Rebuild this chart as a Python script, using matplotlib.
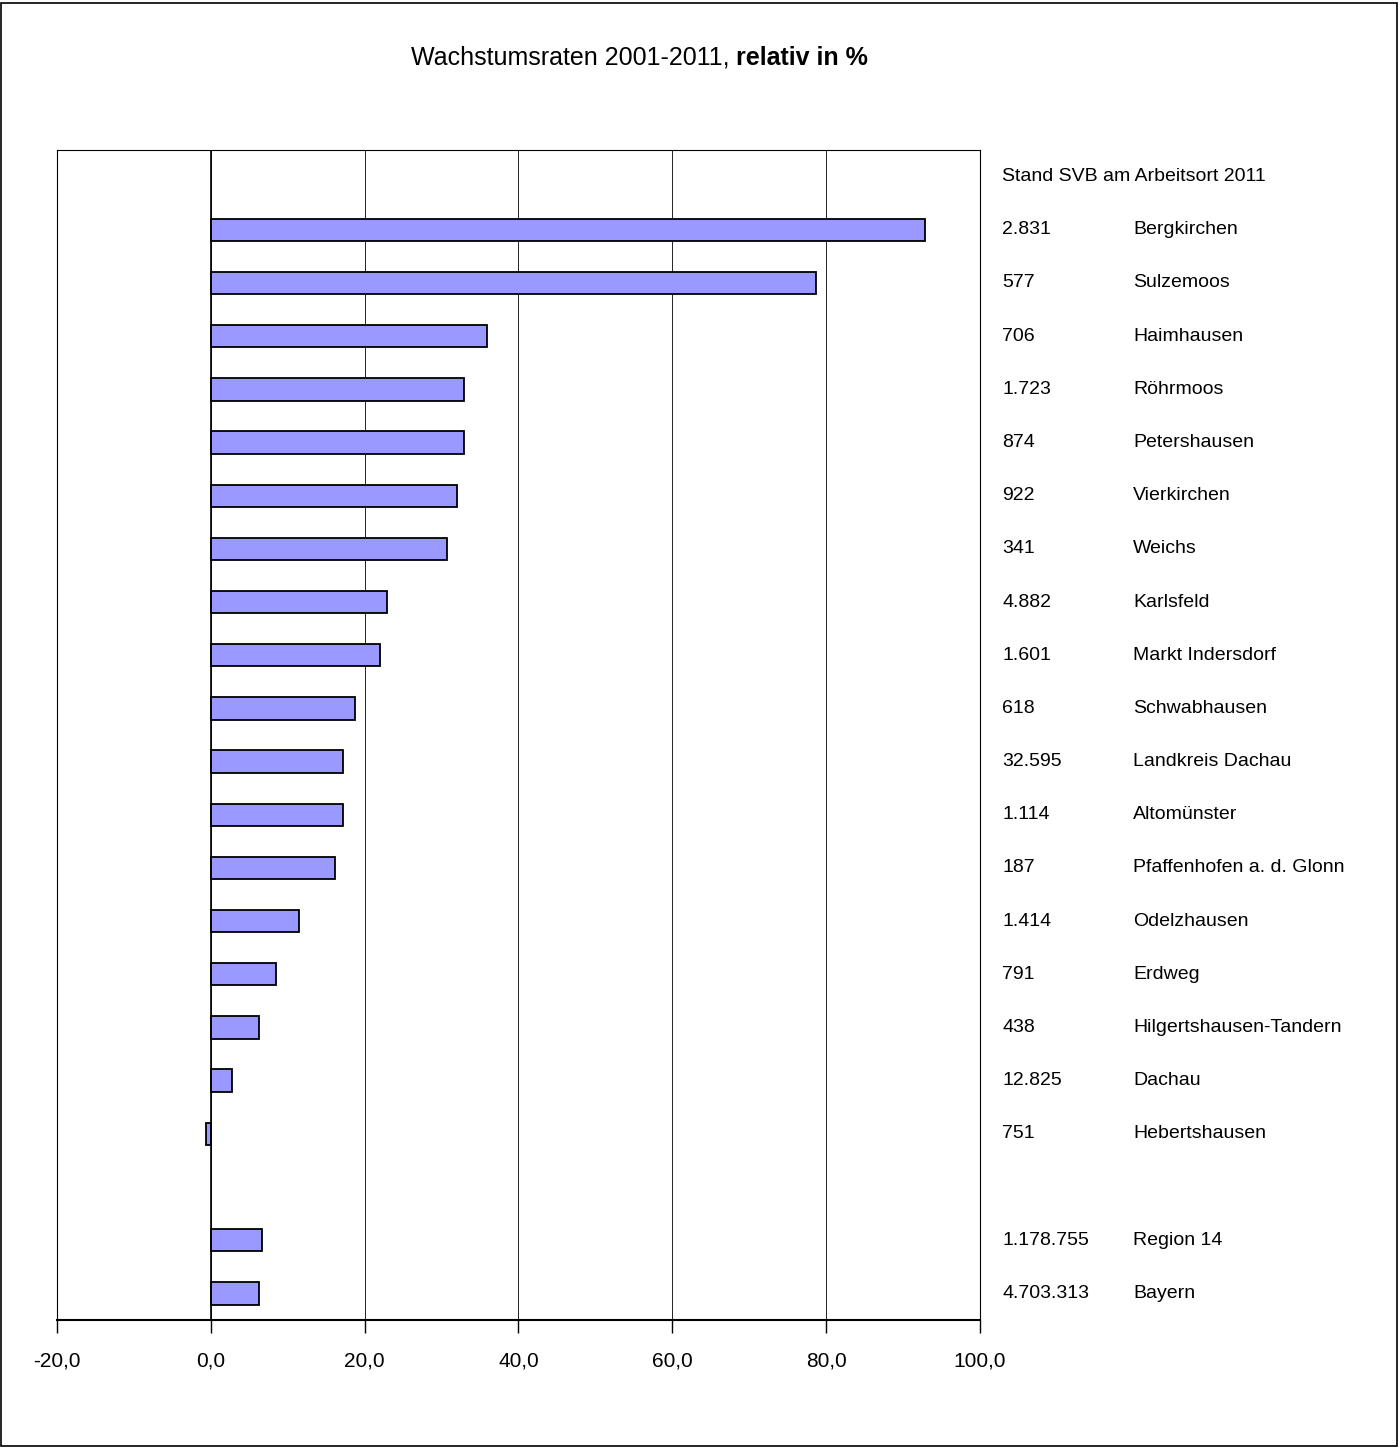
import matplotlib.pyplot as plt
from matplotlib import font_manager
from matplotlib.patches import Rectangle

NAMES = [
    "Bergkirchen", "Sulzemoos", "Haimhausen", "Röhrmoos", "Petershausen",
    "Vierkirchen", "Weichs", "Karlsfeld", "Markt Indersdorf", "Schwabhausen",
    "Landkreis Dachau", "Altomünster", "Pfaffenhofen a. d. Glonn", "Odelzhausen",
    "Erdweg", "Hilgertshausen-Tandern", "Dachau", "Hebertshausen",
    "", "Region 14", "Bayern",
]
SVB = [
    "2.831", "577", "706", "1.723", "874", "922", "341", "4.882", "1.601", "618",
    "32.595", "1.114", "187", "1.414", "791", "438", "12.825", "751",
    "", "1.178.755", "4.703.313",
]
GROWTH = [
    92.9, 78.7, 35.9, 32.9, 32.9, 32.0, 30.7, 22.9, 22.0, 18.7,
    17.2, 17.2, 16.2, 11.5, 8.5, 6.3, 2.8, -0.6,
    None, 6.7, 6.3,
]
XTICKS = [-20, 0, 20, 40, 60, 80, 100]

available = {f.name for f in font_manager.fontManager.ttflist}
FONT = "Liberation Sans Narrow" if "Liberation Sans Narrow" in available else "Liberation Sans"
plt.rcParams["font.family"] = [FONT, "DejaVu Sans"]
LABEL_SIZE = 14

fig = plt.figure(figsize=(14, 14.47), dpi=100)
fig.patches.append(Rectangle((0.001, 0.001), 0.997, 0.997, transform=fig.transFigure,
                             fill=False, edgecolor="black", linewidth=1.2))

ax = fig.add_axes([0.0407, 0.0878, 0.6593, 0.8085])

# slot 0 holds the header row, then one slot per entry
ypos = [i + 1 for i in range(len(NAMES))]
for y, v in zip(ypos, GROWTH):
    if v is None:
        continue
    ax.barh(y, v, height=0.42, color="#9999ff", edgecolor="black", linewidth=1.3, zorder=3)

ax.set_xlim(-20, 100)
ax.set_ylim(len(NAMES) + 0.5, -0.5)
ax.set_xticks(XTICKS)
ax.set_xticklabels([f"{t},0" for t in XTICKS], fontsize=15)
ax.set_yticks([])
ax.tick_params(axis="x", direction="out", length=9, width=1, pad=14)
for t in XTICKS[1:-1]:
    ax.axvline(t, color="black", linewidth=0.6, zorder=1)
ax.axvline(0, color="black", linewidth=1.2, zorder=4)
for side in ["left", "right", "top"]:
    ax.spines[side].set_linewidth(0.8)
ax.spines["bottom"].set_linewidth(1.5)

trans = ax.get_yaxis_transform()
ax.text(1.024, 0.0, "Stand SVB am Arbeitsort 2011", transform=trans, fontsize=LABEL_SIZE,
        va="center", ha="left")
for y, svb, name in zip(ypos, SVB, NAMES):
    ax.text(1.024, y, svb, transform=trans, fontsize=LABEL_SIZE, va="center", ha="left")
    ax.text(1.166, y, name, transform=trans, fontsize=LABEL_SIZE, va="center", ha="left")

fig.text(0.526, 0.96, "Wachstumsraten 2001-2011, ", fontsize=18, ha="right", va="center")
fig.text(0.526, 0.96, "relativ in %", fontsize=18, ha="left", va="center", fontweight="bold")

fig.savefig("out.png", dpi=100)
